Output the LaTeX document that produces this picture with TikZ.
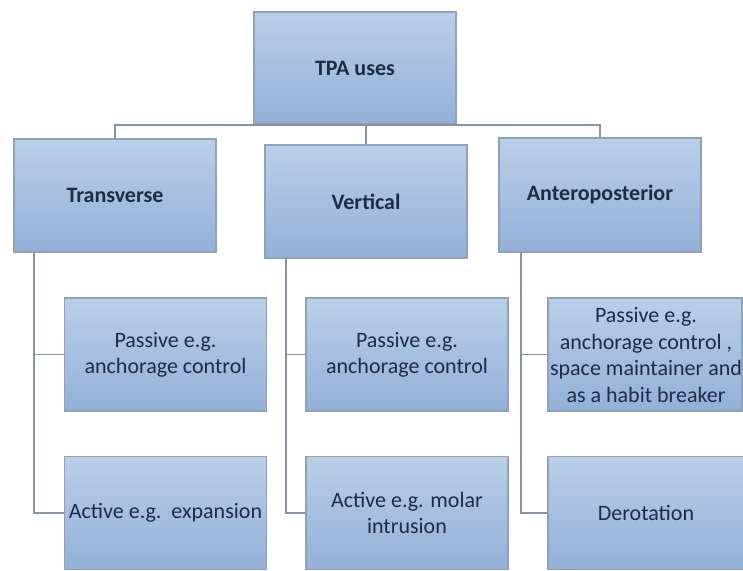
\documentclass[tikz,border=0pt]{standalone}
\usepackage{fontspec}
\setmainfont{Carlito}
\definecolor{boxtop}{HTML}{BACFE8}
\definecolor{boxbot}{HTML}{93B0D8}
\definecolor{boxline}{HTML}{8EA2BA}
\definecolor{txt}{HTML}{1E2B45}
\definecolor{wire}{HTML}{87939F}
\begin{document}
\begin{tikzpicture}[x=1pt,y=-1pt,
  box/.style={draw=boxline, line width=1.3pt, top color=boxtop, bottom color=boxbot,
    minimum width=202pt, minimum height=113pt, inner sep=2pt, text=txt, align=center},
  head/.style={box, font=\fontsize{22}{26}\selectfont\bfseries},
  leaf/.style={box, font=\fontsize{22}{26}\selectfont},
  leaftext/.style={text=txt, align=center, inner sep=0pt, font=\fontsize{22}{26.5}\selectfont},
  wireline/.style={draw=wire, line width=1.5pt}]
\useasboundingbox (0,0) rectangle (743,570);
\clip (0,0) rectangle (743,570);
% top level
\node[head, minimum height=112pt] (top) at (355,68) {TPA uses};
\node[head] (trans) at (115,195.5) {Transverse};
\node[head] (vert) at (366,201.5) {Vertical};
\node[head, minimum height=114pt] (ap) at (600,195) {Anteroposterior};
% children
\node[leaf] (tp) at (165.5,354.5) {Passive e.g.\\anchorage control};
\node[leaf] (ta) at (165.5,513) {Active e.g.\ \ expansion};
\node[leaf] (vp) at (407,354.5) {Passive e.g.\\anchorage control};
\node[leaf] (va) at (407,513) {Active e.g. molar\\intrusion};
\node[leaf, minimum width=194pt] (app) at (645,354.5) {};
\node[leaftext] (apptext) at (646,355) {Passive e.g.\\anchorage control ,\\space maintainer and\\as a habit breaker};
\node[leaf, minimum width=196pt] (der) at (646,513) {Derotation};
% bus
\coordinate (bus) at (355,125);
\draw[wireline] (top.south) -- (bus);
\draw[wireline] (bus) -| (trans.north);
\draw[wireline] (bus) -| (vert.north);
\draw[wireline] (bus) -| (ap.north);
% side lines
\draw[wireline] ([xshift=-81pt]trans.south) |- (tp.west);
\draw[wireline] ([xshift=-81pt]trans.south) |- (ta.west);
\draw[wireline] ([xshift=-80pt]vert.south) |- (vp.west);
\draw[wireline] ([xshift=-80pt]vert.south) |- (va.west);
\draw[wireline] ([xshift=-79pt]ap.south) |- (app.west);
\draw[wireline] ([xshift=-79pt]ap.south) |- (der.west);
\end{tikzpicture}
\end{document}
